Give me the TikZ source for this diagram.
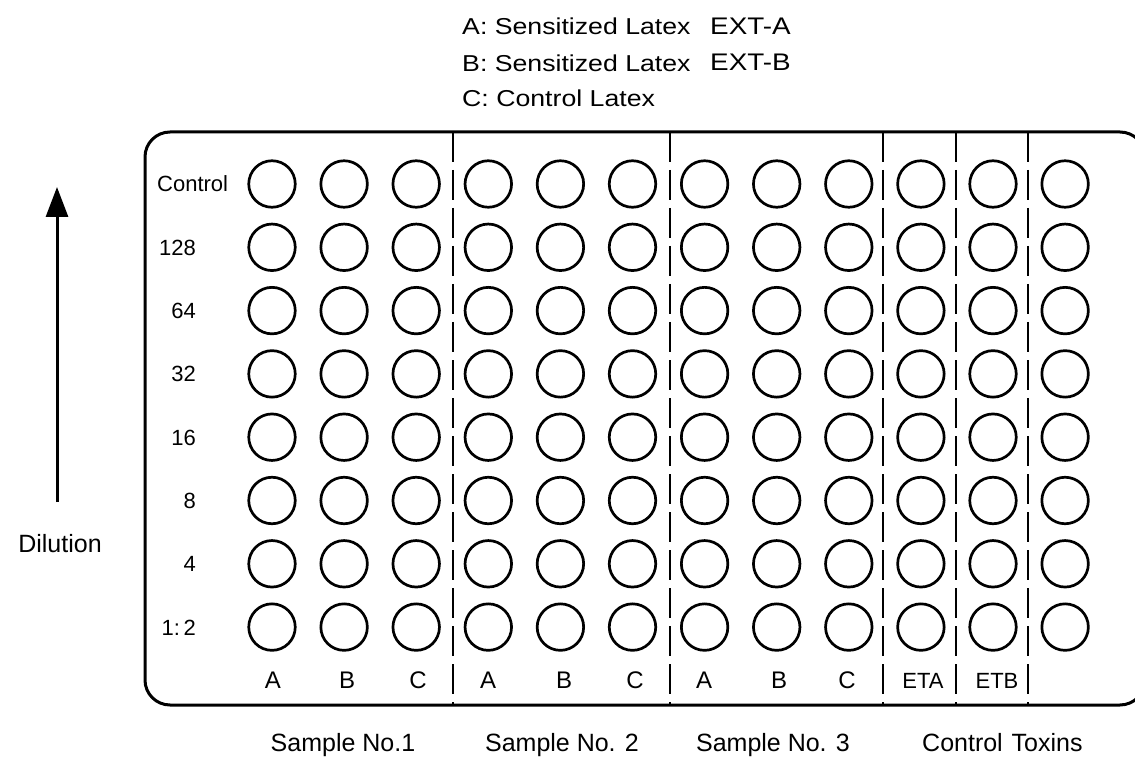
\documentclass[tikz,border=0pt]{standalone}
\usepackage{fontspec}
\setmainfont{Liberation Sans}
\newfontfamily\titlefont[FakeStretch=1.16]{Liberation Sans}
\usetikzlibrary{arrows.meta}
\begin{document}
\begin{tikzpicture}[x=1pt,y=-1pt,
  well/.style={circle,draw,line width=2.7pt,minimum size=46.5pt,inner sep=0pt},
  rowlab/.style={anchor=base east,inner sep=0pt,font=\fontsize{22}{24}\selectfont},
  collab/.style={anchor=base,inner sep=0pt,font=\fontsize{24}{26}\selectfont},
  etlab/.style={anchor=base,inner sep=0pt,font=\fontsize{22}{24}\selectfont},
  botlab/.style={anchor=base,inner sep=0pt,font=\fontsize{25}{27}\selectfont},
  titlelab/.style={anchor=base west,inner sep=0pt,font=\titlefont\fontsize{23}{25}\selectfont},
  extlab/.style={anchor=base west,inner sep=0pt,font=\titlefont\fontsize{24}{26}\selectfont},
  divider/.style={line width=2.8pt,dash pattern=on 30pt off 8pt}
]
\useasboundingbox (0,0) rectangle (1135,759);
% legend
\node[titlelab] (la) at (462,35) {A: Sensitized Latex};
\node[titlelab] (lb) at (462,72) {B: Sensitized Latex};
\node[titlelab] (lc) at (462,107) {C: Control Latex};
\node[extlab] (ea) at (710,35) {EXT-A};
\node[extlab] (eb) at (710,71) {EXT-B};
% plate
\draw[line width=3pt,rounded corners=25pt] (145,132) rectangle (1145,705);
\foreach \x in {453,670,883,956,1028}
  \draw[divider] (\x,132) -- (\x,705);
% wells
\foreach \i in {0,...,11}
  \foreach \j in {0,...,7}
    \node[well] (w\i-\j) at ({272+72.1*\i},{184+63.3*\j}) {};
% row labels
\node[rowlab,anchor=base west] (rc) at (157,192) {Control};
\node[rowlab] (r128) at (196,255.3) {128};
\node[rowlab] (r64) at (196,318.6) {64};
\node[rowlab] (r32) at (196,381.9) {32};
\node[rowlab] (r16) at (196,445.2) {16};
\node[rowlab] (r8) at (196,508.5) {8};
\node[rowlab] (r4) at (196,571.8) {4};
\node[rowlab] (r2) at (196,635.1) {1:\,2};
% column labels
\node[collab] (c1a) at (273,688) {A};
\node[collab] (c1b) at (347,688) {B};
\node[collab] (c1c) at (418,688) {C};
\node[collab] (c2a) at (488,688) {A};
\node[collab] (c2b) at (564,688) {B};
\node[collab] (c2c) at (635,688) {C};
\node[collab] (c3a) at (704,688) {A};
\node[collab] (c3b) at (779,688) {B};
\node[collab] (c3c) at (847,688) {C};
\node[etlab] (eta) at (923,688) {ETA};
\node[etlab] (etb) at (997,688) {ETB};
% bottom labels
\node[botlab] (s1) at (343,751) {Sample No.1};
\node[botlab] (s2) at (562,751) {Sample No. 2};
\node[botlab] (s3) at (773,751) {Sample No. 3};
\node[botlab,anchor=base west] (ct) at (922,751) {Control\hspace{2pt} Toxins};
% dilution arrow
\coordinate (dtail) at (57,502);
\coordinate (dtip) at (57,187);
\draw[line width=3pt,-{Triangle[width=22pt,length=30pt]}] (dtail) -- (dtip);
\node[botlab] (dil) at (60,552) {Dilution};
\end{tikzpicture}
\end{document}
